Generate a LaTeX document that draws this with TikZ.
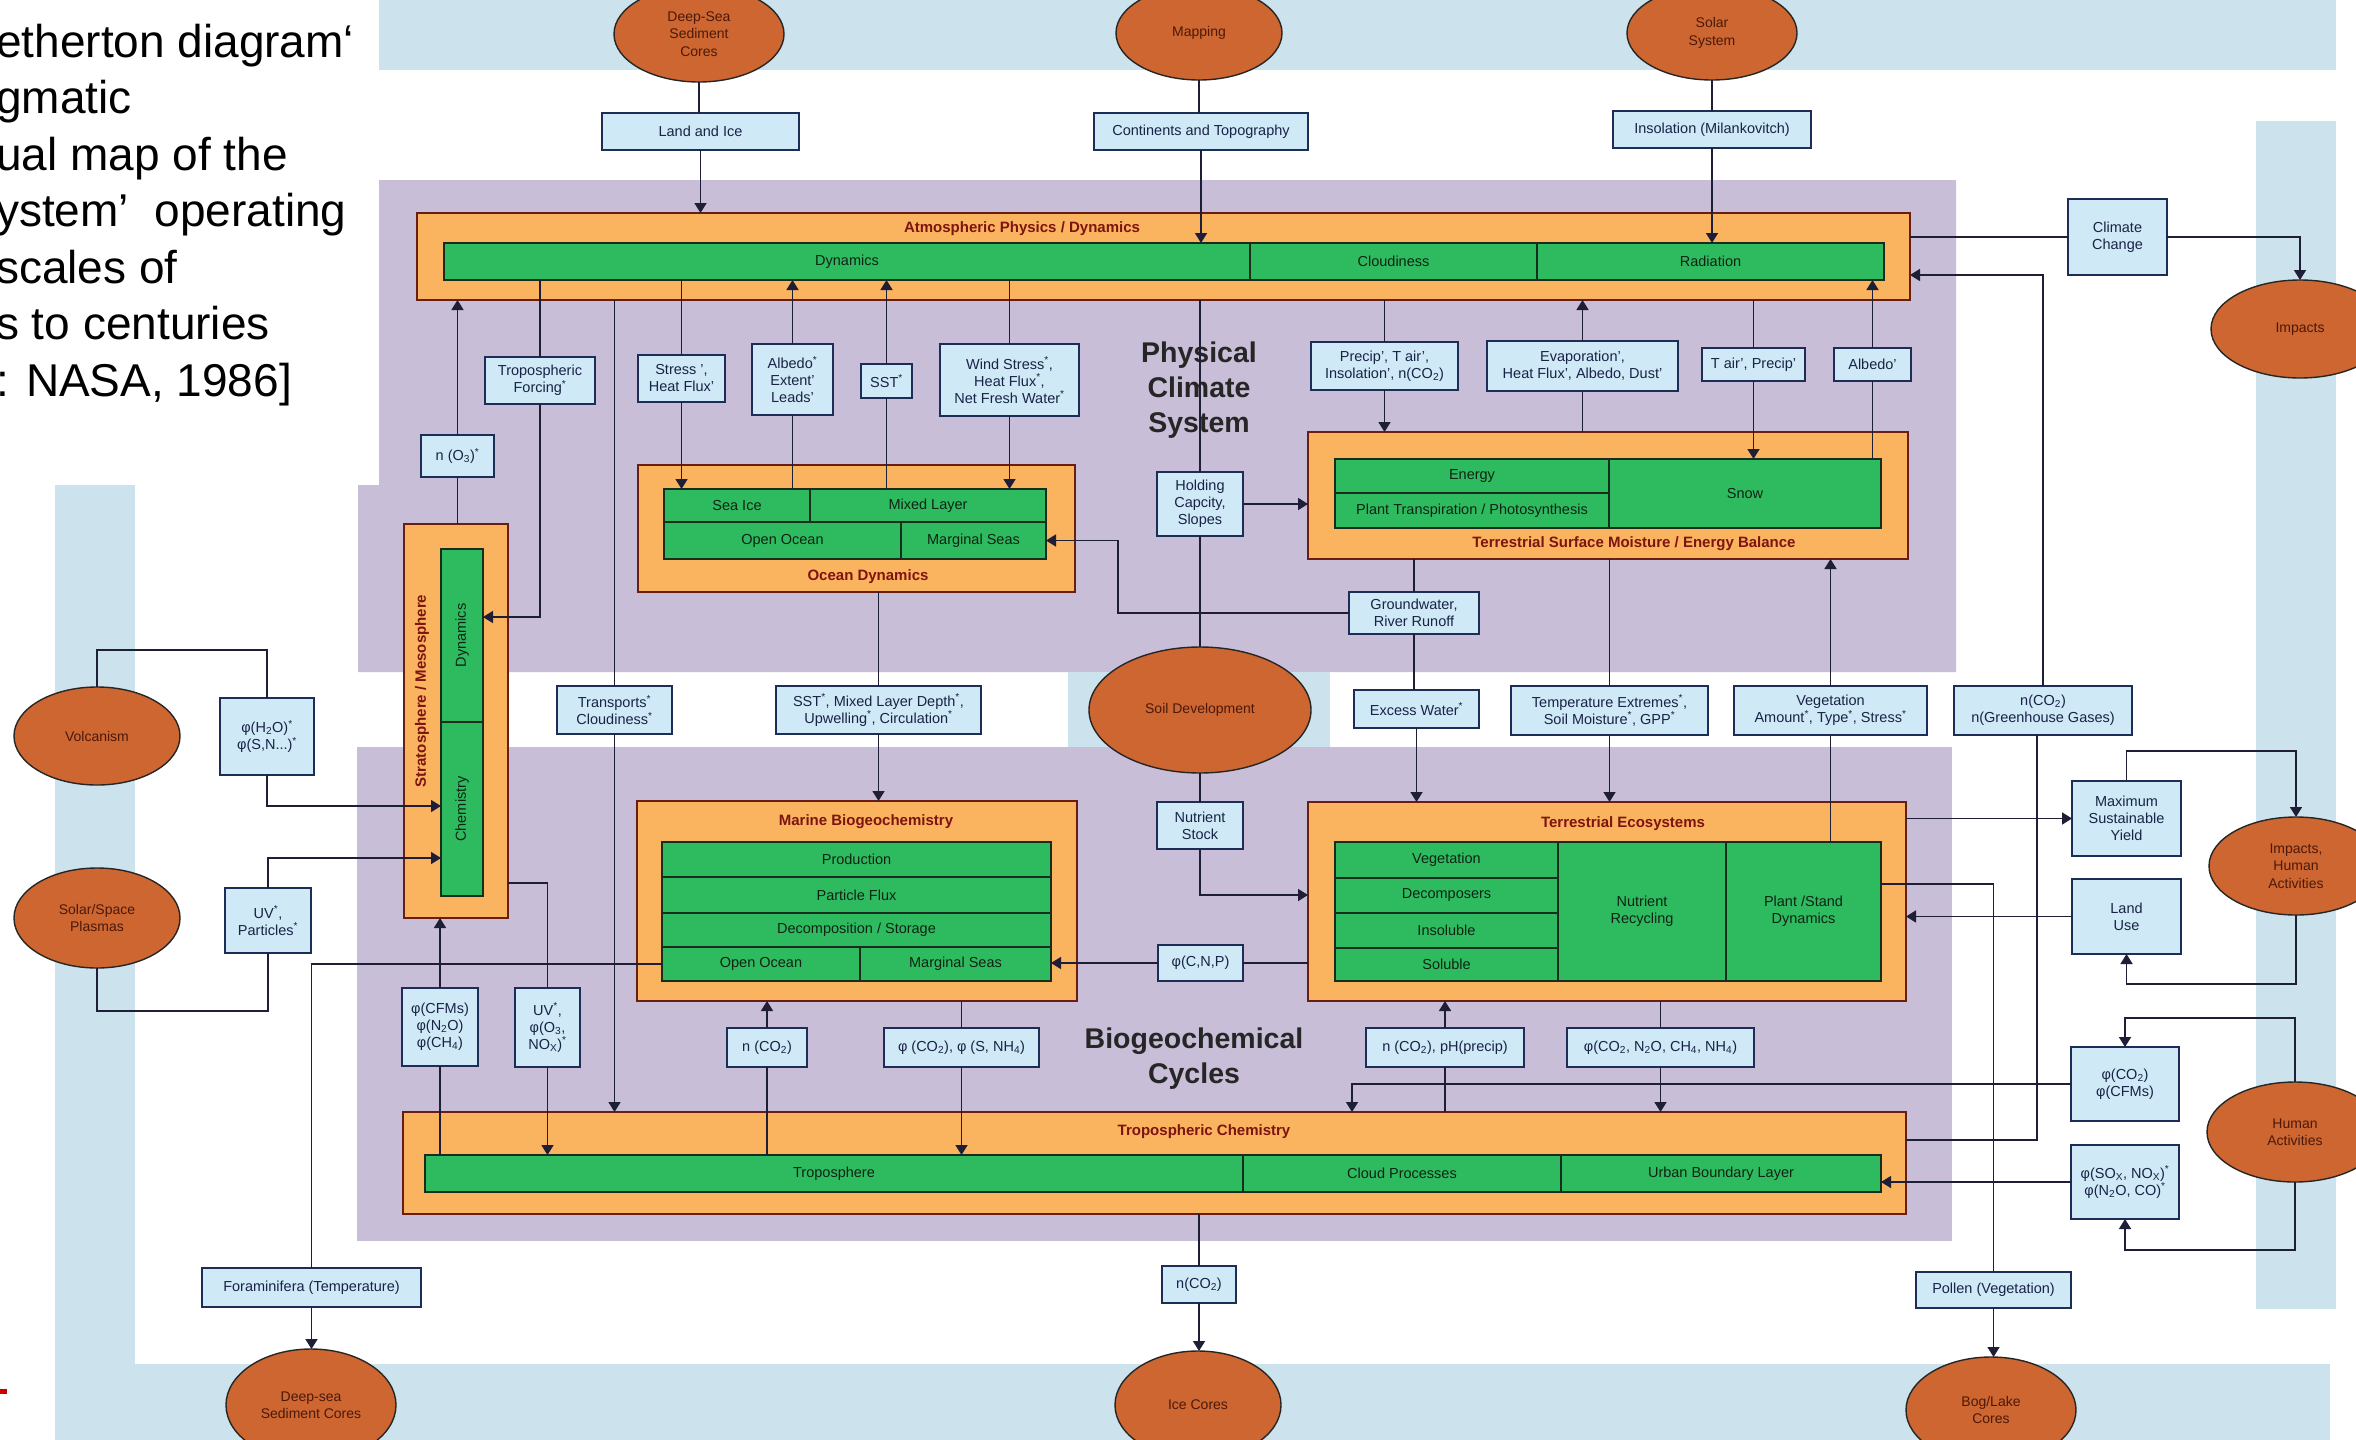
\documentclass[tikz,border=0pt]{standalone}
\usepackage{fontspec}
\setmainfont{Liberation Sans}
\usetikzlibrary{shapes.geometric,arrows.meta}
\definecolor{bandblue}{RGB}{204,226,236}
\definecolor{boxblue}{RGB}{207,233,246}
\definecolor{purp}{RGB}{201,190,215}
\definecolor{orng}{RGB}{250,180,95}
\definecolor{grn}{RGB}{46,187,96}
\definecolor{ellfill}{RGB}{205,102,48}
\definecolor{ttlred}{RGB}{125,20,15}
\definecolor{linecol}{RGB}{30,30,55}
\definecolor{orbord}{RGB}{105,30,20}
\definecolor{grbord}{RGB}{25,45,30}
\definecolor{blbord}{RGB}{30,45,85}
\definecolor{txtblue}{RGB}{25,35,70}
\definecolor{txtgreen}{RGB}{15,35,20}
\definecolor{txtell}{RGB}{75,25,10}
\newcommand{\mybox}[7]{\node[#2, minimum width={(#5-#3)*1pt}, minimum height={(#6-#4)*1pt}] (#1) at ({(#3+#5)/2},{(#4+#6)/2}) {#7};}
\newcommand{\myell}[6]{\node[ellbox, minimum width={2*#4*1pt}, minimum height={2*#5*1pt}] (#1) at (#2,#3) {#6};}
\newcommand{\strsup}{\textsuperscript{*}}
\newcommand{\sbt}[1]{\textsubscript{#1}}
\begin{document}
\begin{tikzpicture}[x=1pt,y=-1pt,
  bluebox/.style={draw=blbord, fill=boxblue, line width=1.4pt, inner sep=0pt, outer sep=0pt, align=center, text=txtblue, font=\fontsize{14.5}{17}\selectfont},
  cellbox/.style={draw=grbord, fill=grn, line width=1.4pt, inner sep=0pt, outer sep=0pt, align=center, text=txtgreen, font=\fontsize{14.5}{17}\selectfont},
  orbox/.style={draw=orbord, fill=orng, line width=1.6pt, inner sep=0pt, outer sep=0pt},
  ellbox/.style={ellipse, draw=black!85, fill=ellfill, line width=1.4pt, inner sep=0pt, outer sep=0pt, align=center, text=txtell, font=\fontsize{14}{17.5}\selectfont},
  ttl/.style={text=ttlred, font=\bfseries\fontsize{15}{18}\selectfont, inner sep=0pt},
  celltext/.style={text=txtgreen, font=\fontsize{14.5}{17}\selectfont, inner sep=0pt},
  biglbl/.style={align=center, font=\bfseries\fontsize{28.5}{35}\selectfont, text=black!85, inner sep=0pt},
  slide/.style={anchor=base west, inner sep=0pt, font=\fontsize{46}{56}\selectfont},
  conn/.style={draw=linecol, line width=1.6pt},
  arr/.style={conn, -{Triangle[width=12pt,length=10pt]}}]
\useasboundingbox (0,0) rectangle (2356,1440);
% backgrounds
\fill[white] (0,0) rectangle (2356,1440);
\fill[bandblue] (379,0) rectangle (2336,70);
\fill[bandblue] (2256,121) rectangle (2336,1309);
\fill[bandblue] (55,485) rectangle (135,1440);
\fill[bandblue] (55,1364) rectangle (2330,1440);
\fill[purp] (379,180) -- (1956,180) -- (1956,672) -- (358,672) -- (358,485) -- (379,485) -- cycle;
\fill[purp] (357,747) rectangle (1952,1241);
\fill[bandblue] (1068,672) rectangle (1330,747);
\fill[red!80!black] (0,1389) rectangle (7,1394);
% slide text
\node[slide] (s1) at (-4,57) {etherton diagram‘};
\node[slide] (s2) at (-4,113.5) {gmatic};
\node[slide] (s3) at (-4,170) {ual map of the};
\node[slide] (s4) at (-4,226.5) {ystem’\ \ operating};
\node[slide] (s5) at (-4,283) {scales of};
\node[slide] (s6) at (-4,339.5) {s to centuries};
\node[slide] (s7) at (-4,396) {: NASA, 1986]};
% orange containers
\mybox{atmos}{orbox}{417}{213}{1910}{300}{}
\mybox{ocean}{orbox}{638}{465}{1075}{592}{}
\mybox{tsm}{orbox}{1308}{432}{1908}{559}{}
\mybox{strat}{orbox}{404}{524}{508}{918}{}
\mybox{marine}{orbox}{637}{801}{1077}{1001}{}
\mybox{teco}{orbox}{1308}{802}{1906}{1001}{}
\mybox{trop}{orbox}{403}{1112}{1906}{1214}{}
% green cells
\mybox{dyn}{cellbox}{444}{243}{1250}{280}{Dynamics}
\mybox{cloud}{cellbox}{1250}{243}{1537}{280}{Cloudiness}
\mybox{rad}{cellbox}{1537}{243}{1884}{280}{Radiation}
\mybox{seaice}{cellbox}{664}{489}{810}{522}{Sea Ice}
\mybox{mixed}{cellbox}{810}{489}{1046}{522}{Mixed Layer}
\mybox{openoc}{cellbox}{664}{522}{901}{559}{Open Ocean}
\mybox{margs}{cellbox}{901}{522}{1046}{559}{Marginal Seas}
\mybox{energy}{cellbox}{1335}{459}{1609}{493}{Energy}
\mybox{plant}{cellbox}{1335}{493}{1609}{528}{Plant Transpiration / Photosynthesis}
\mybox{snow}{cellbox}{1609}{459}{1881}{528}{Snow}
\mybox{sdyn}{cellbox}{441}{549}{483}{722}{}
\mybox{chem}{cellbox}{441}{722}{483}{896}{}
\node[celltext, rotate=90] (sdynlbl) at (sdyn) {Dynamics};
\node[celltext, rotate=90] (chemlbl) at (chem) {Chemistry};
\mybox{prod}{cellbox}{662}{842}{1051}{877}{Production}
\mybox{pflux}{cellbox}{662}{877}{1051}{913}{Particle Flux}
\mybox{decomp}{cellbox}{662}{913}{1051}{947}{Decomposition / Storage}
\mybox{mopen}{cellbox}{662}{947}{860}{981}{Open Ocean}
\mybox{mmarg}{cellbox}{860}{947}{1051}{981}{Marginal Seas}
\mybox{veg}{cellbox}{1335}{842}{1558}{878}{Vegetation}
\mybox{decompo}{cellbox}{1335}{878}{1558}{913}{Decomposers}
\mybox{insolub}{cellbox}{1335}{913}{1558}{948}{Insoluble}
\mybox{solub}{cellbox}{1335}{948}{1558}{981}{Soluble}
\mybox{nutr}{cellbox}{1558}{842}{1726}{981}{Nutrient\\Recycling}
\mybox{pstand}{cellbox}{1726}{842}{1881}{981}{Plant /Stand\\Dynamics}
\mybox{tropo}{cellbox}{425}{1155}{1243}{1192}{Troposphere}
\mybox{cloudp}{cellbox}{1243}{1155}{1561}{1192}{Cloud Processes}
\mybox{urban}{cellbox}{1561}{1155}{1881}{1192}{Urban Boundary Layer}
% titles
\node[ttl] (atmosttl) at (1022,229) {Atmospheric Physics / Dynamics};
\node[ttl] (oceanttl) at (868,577) {Ocean Dynamics};
\node[ttl] (tsmttl) at (1634,544) {Terrestrial Surface Moisture / Energy Balance};
\node[ttl, rotate=90] (stratttl) at (422,691) {Stratosphere / Mesosphere};
\node[ttl] (marinettl) at (866,822) {Marine Biogeochemistry};
\node[ttl] (tecottl) at (1623,824) {Terrestrial Ecosystems};
\node[ttl] (tropttl) at (1204,1132) {Tropospheric Chemistry};
\node[biglbl] (phys) at (1199,390) {Physical\\Climate\\System};
\node[biglbl] (biog) at (1194,1059) {Biogeochemical\\Cycles};
% blue boxes
\mybox{landice}{bluebox}{602}{113}{799}{150}{Land and Ice}
\mybox{cont}{bluebox}{1094}{113}{1308}{150}{Continents and Topography}
\mybox{insol}{bluebox}{1613}{111}{1811}{148}{Insolation (Milankovitch)}
\mybox{climch}{bluebox}{2068}{199}{2167}{275}{Climate\\Change}
\mybox{tforc}{bluebox}{485}{357}{595}{404}{Tropospheric\\Forcing\strsup}
\mybox{no3}{bluebox}{421}{435}{494}{477}{n (O\sbt{3})\strsup}
\mybox{stress}{bluebox}{638}{355}{725}{402}{Stress ',\\Heat Flux'}
\mybox{albedo}{bluebox}{752}{344}{833}{415}{Albedo\strsup\\Extent'\\Leads'}
\mybox{sst}{bluebox}{861}{364}{912}{398}{SST\strsup}
\mybox{wind}{bluebox}{940}{344}{1079}{416}{Wind Stress\strsup,\\Heat Flux\strsup,\\Net Fresh Water\strsup}
\mybox{precip}{bluebox}{1311}{342}{1458}{390}{Precip', T air',\\Insolation', n(CO\sbt{2})}
\mybox{evap}{bluebox}{1487}{341}{1678}{391}{Evaporation',\\Heat Flux', Albedo, Dust'}
\mybox{tair}{bluebox}{1702}{348}{1805}{381}{T air', Precip'}
\mybox{albedob}{bluebox}{1834}{348}{1911}{381}{Albedo'}
\mybox{holding}{bluebox}{1157}{472}{1243}{536}{Holding\\Capcity,\\Slopes}
\mybox{ground}{bluebox}{1349}{592}{1479}{634}{Groundwater,\\River Runoff}
\mybox{transp}{bluebox}{557}{686}{672}{734}{Transports\strsup\\Cloudiness\strsup}
\mybox{sstmix}{bluebox}{776}{686}{981}{734}{SST\strsup, Mixed Layer Depth\strsup,\\Upwelling\strsup, Circulation\strsup}
\mybox{excess}{bluebox}{1354}{690}{1479}{728}{Excess Water\strsup}
\mybox{tempx}{bluebox}{1511}{686}{1708}{735}{Temperature Extremes\strsup,\\Soil Moisture\strsup, GPP\strsup}
\mybox{vegam}{bluebox}{1734}{686}{1927}{735}{Vegetation\\Amount\strsup, Type\strsup, Stress\strsup}
\mybox{nghg}{bluebox}{1954}{686}{2132}{735}{n(CO\sbt{2})\\n(Greenhouse Gases)}
\mybox{htwo}{bluebox}{220}{698}{314}{775}{φ(H\sbt{2}O)\strsup\\φ(S,N...)\strsup}
\mybox{uvp}{bluebox}{225}{888}{311}{953}{UV\strsup,\\Particles\strsup}
\mybox{nutst}{bluebox}{1157}{802}{1243}{849}{Nutrient\\Stock}
\mybox{cnp}{bluebox}{1158}{945}{1243}{981}{φ(C,N,P)}
\mybox{cfms}{bluebox}{402}{988}{478}{1066}{φ(CFMs)\\φ(N\sbt{2}O)\\φ(CH\sbt{4})}
\mybox{uvo}{bluebox}{515}{988}{580}{1067}{UV\strsup,\\φ(O\sbt{3},\\NO\sbt{X})\strsup}
\mybox{nco}{bluebox}{727}{1028}{807}{1067}{n (CO\sbt{2})}
\mybox{phico}{bluebox}{884}{1028}{1039}{1067}{φ (CO\sbt{2}), φ (S, NH\sbt{4})}
\mybox{ncoph}{bluebox}{1366}{1028}{1524}{1067}{n (CO\sbt{2}), pH(precip)}
\mybox{phicon}{bluebox}{1567}{1028}{1754}{1067}{φ(CO\sbt{2}, N\sbt{2}O, CH\sbt{4}, NH\sbt{4})}
\mybox{msy}{bluebox}{2072}{781}{2181}{856}{Maximum\\Sustainable\\Yield}
\mybox{landuse}{bluebox}{2072}{879}{2181}{954}{Land\\Use}
\mybox{phicfm}{bluebox}{2071}{1047}{2179}{1121}{φ(CO\sbt{2})\\φ(CFMs)}
\mybox{phisox}{bluebox}{2071}{1145}{2179}{1219}{φ(SO\sbt{X}, NO\sbt{X})\strsup\\φ(N\sbt{2}O, CO)\strsup}
\mybox{pollen}{bluebox}{1916}{1272}{2071}{1308}{Pollen (Vegetation)}
\mybox{ncob}{bluebox}{1162}{1266}{1236}{1303}{n(CO\sbt{2})}
\mybox{foram}{bluebox}{202}{1268}{421}{1307}{Foraminifera (Temperature)}
% ellipses
\myell{deepsea}{699}{34}{85}{48}{Deep-Sea\\Sediment\\Cores}
\myell{mapping}{1199}{33}{83}{47}{Mapping}
\myell{solar}{1712}{33}{85}{47}{Solar\\System}
\myell{impacts}{2300}{329}{89}{49}{Impacts}
\myell{impha}{2296}{866}{87}{49}{Impacts,\\Human\\Activities}
\myell{human}{2295}{1132}{88}{50}{Human\\Activities}
\myell{volc}{97}{736}{83}{49}{Volcanism}
\myell{plasma}{97}{918}{83}{50}{Solar/Space\\Plasmas}
\myell{deepseab}{311}{1405}{85}{56}{Deep-sea\\Sediment Cores}
\myell{icecores}{1198}{1405}{83}{54}{Ice Cores}
\myell{boglake}{1991}{1410}{85}{53}{Bog/Lake\\Cores}
\myell{soildev}{1200}{710}{111}{63}{Soil Development}
% connectors: top
\draw[conn] (deepsea.south) -- (deepsea.south |- landice.north);
\draw[arr] (landice.south) -- (landice.south |- atmos.north);
\draw[conn] (mapping.south) -- (mapping.south |- cont.north);
\draw[arr] (cont.south) -- (cont.south |- dyn.north);
\draw[conn] (solar.south) -- (solar.south |- insol.north);
\draw[arr] (insol.south) -- (insol.south |- rad.north);
\draw[conn] (atmos.east |- climch.west) -- (climch.west);
\draw[arr] (climch.east) -| (impacts.north);
\draw[arr] (nghg.north) |- ([yshift=-18.5pt]atmos.east);
\draw[conn] ([yshift=23pt]trop.east) -| ([xshift=-6pt]nghg.south);
% right side
\draw[arr] (teco.east |- msy.west) -- (msy.west);
\draw[arr] (msy.north) |- ([yshift=66pt]impha.north) -- (impha.north);
\draw[arr] (landuse.west) -- (teco.east |- landuse.west);
\draw[arr] (impha.south) |- ([yshift=-30pt]landuse.south) -- (landuse.south);
\draw[arr] (human.north) |- ([yshift=29pt]phicfm.north) -- (phicfm.north);
\draw[arr] (human.south) |- ([yshift=-31pt]phisox.south) -- (phisox.south);
\draw[arr] (phicfm.west) -| ([xshift=197.5pt]trop.north);
\draw[arr] (phisox.west) -- (urban.east |- phisox.west);
\draw[conn] ([yshift=27.5pt]pstand.east) -| (pollen.north);
\draw[arr] (pollen.south) -- (pollen.south |- boglake.north);
% terrestrial
\draw[arr] (vegam.north) -- (vegam.north |- tsm.south);
\draw[conn] (vegam.south) -- (vegam.south |- pstand.north);
\draw[conn] (tsm.south -| ground.north) -- (ground.north);
\draw[conn] (ground.south) -- (ground.south |- excess.north);
\draw[arr] (excess.south) -- (excess.south |- teco.north);
\draw[arr] (ground.west) -- ++(-231,0) |- (margs.east);
\draw[conn] (tsm.south -| tempx.north) -- (tempx.north);
\draw[arr] (tempx.south) -- (tempx.south |- teco.north);
\draw[arr] (holding.east) -- (tsm.west |- holding.east);
% central column
\draw[conn] (atmos.south -| holding.north) -- (holding.north);
\draw[conn] (holding.south) -- (soildev.north);
\draw[conn] (soildev.south) -- (nutst.north);
\draw[arr] (nutst.south) |- ([yshift=6.5pt]teco.west);
\draw[conn] (teco.west |- cnp.east) -- (cnp.east);
\draw[arr] (cnp.west) -- (mmarg.east |- cnp.west);
\draw[conn] (trop.south -| ncob.north) -- (ncob.north);
\draw[arr] (ncob.south) -- (ncob.south |- icecores.north);
% ocean
\draw[conn] (ocean.south -| sstmix.north) -- (sstmix.north);
\draw[arr] (sstmix.south) -- (sstmix.south |- marine.north);
\draw[conn] (dyn.south -| stress.north) -- (stress.north);
\draw[arr] (stress.south) -- (stress.south |- seaice.north);
\draw[conn] (seaice.north -| albedo.south) -- (albedo.south);
\draw[arr] (albedo.north) -- (albedo.north |- dyn.south);
\draw[conn] (mixed.north -| sst.south) -- (sst.south);
\draw[arr] (sst.north) -- (sst.north |- dyn.south);
\draw[conn] (dyn.south -| wind.north) -- (wind.north);
\draw[arr] (wind.south) -- (wind.south |- mixed.north);
\draw[conn] (atmos.south -| transp.north) -- (transp.north);
\draw[arr] (transp.south) -- (transp.south |- trop.north);
% left
\draw[conn] (dyn.south -| tforc.north) -- (tforc.north);
\draw[arr] (tforc.south) |- ([yshift=18.5pt]sdyn.east);
\draw[arr] (no3.north) -- (no3.north |- atmos.south);
\draw[conn] (strat.north -| no3.south) -- (no3.south);
\draw[conn] (volc.north) |- ([yshift=48pt]htwo.north) -- (htwo.north);
\draw[arr] (htwo.south) |- ([yshift=3pt]chem.west);
\draw[arr] (uvp.north) |- ([yshift=-49pt]chem.west);
\draw[conn] (uvp.south) |- ([yshift=-43pt]plasma.south) -- (plasma.south);
\draw[arr] (cfms.north) -- (cfms.north |- strat.south);
\draw[conn] (tropo.north -| cfms.south) -- (cfms.south);
\draw[conn] ([yshift=-162pt]strat.east) -| (uvo.north);
\draw[arr] (uvo.south) -- (uvo.south |- tropo.north);
\draw[conn] (mopen.west) -| (foram.north);
\draw[arr] (foram.south) -- (foram.south |- deepseab.north);
% marine bottom
\draw[arr] (nco.north) -- (nco.north |- marine.south);
\draw[conn] (tropo.north -| nco.south) -- (nco.south);
\draw[conn] (marine.south -| phico.north) -- (phico.north);
\draw[arr] (phico.south) -- (phico.south |- tropo.north);
% terrestrial bottom
\draw[arr] (ncoph.north) -- (ncoph.north |- teco.south);
\draw[conn] (trop.north -| ncoph.south) -- (ncoph.south);
\draw[conn] (teco.south -| phicon.north) -- (phicon.north);
\draw[arr] (phicon.south) -- (phicon.south |- trop.north);
% physical
\draw[conn] (atmos.south -| precip.north) -- (precip.north);
\draw[arr] (precip.south) -- (precip.south |- tsm.north);
\draw[conn] (tsm.north -| evap.south) -- (evap.south);
\draw[arr] (evap.north) -- (evap.north |- atmos.south);
\draw[conn] (atmos.south -| tair.north) -- (tair.north);
\draw[arr] (tair.south) -- (tair.south |- snow.north);
\draw[conn] (snow.north -| albedob.south) -- (albedob.south);
\draw[arr] (albedob.north) -- (albedob.north |- rad.south);
\end{tikzpicture}
\end{document}
